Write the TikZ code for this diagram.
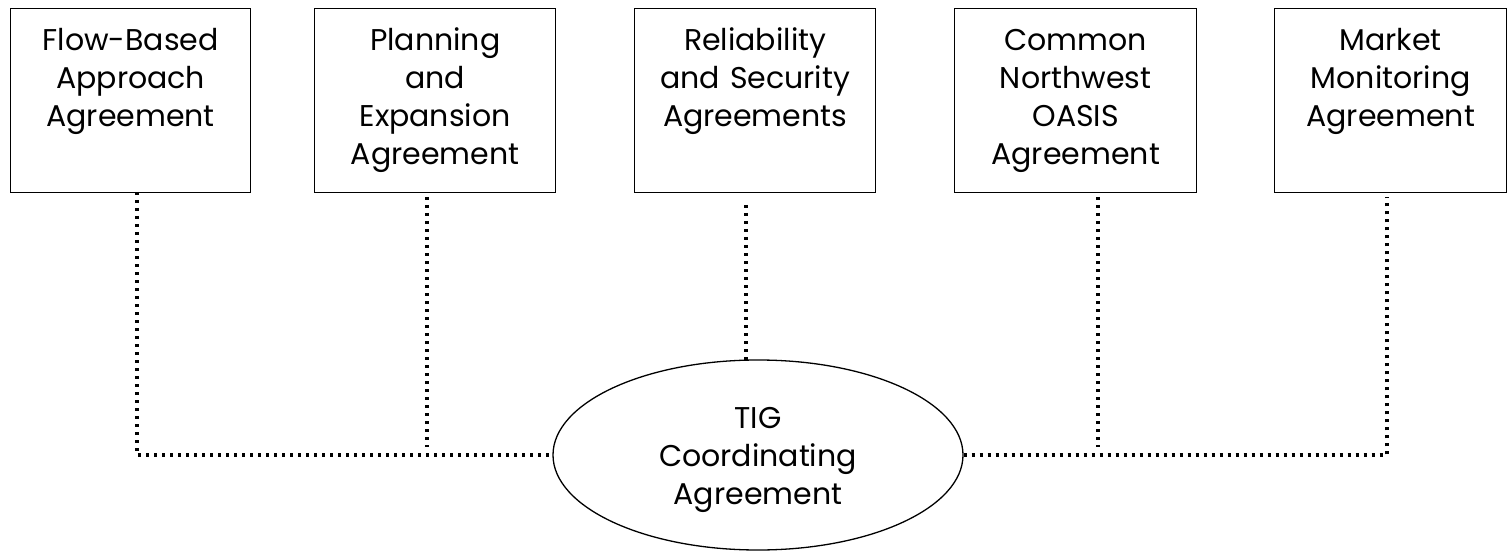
\documentclass[tikz,border=0pt]{standalone}
\usepackage{fontspec}
\setmainfont{Poppins}
\usetikzlibrary{shapes.geometric}
\begin{document}
\begin{tikzpicture}[x=1bp,y=-1bp,
  lbl/.style={font=\fontsize{30bp}{38bp}\selectfont},
  box/.style={lbl, draw, line width=1.3bp, inner sep=0pt, anchor=north west,
    align=center, text height=42bp, text depth=142bp},
  dots/.style={line width=3.3bp, dash pattern=on 3.3bp off 4.7bp}]
\useasboundingbox (0,0) rectangle (1508,551);
\node[box, text width=240bp] (b1) at (10,8) {Flow-Based\\Approach\\Agreement};
\node[box, text width=241bp] (b2) at (314,8) {Planning\\and\\Expansion\\Agreement};
\node[box, text width=241bp] (b3) at (634,8) {Reliability\\and Security\\Agreements};
\node[box, text width=242bp] (b4) at (954,8) {Common\\Northwest\\OASIS\\Agreement};
\node[box, text width=232bp] (b5) at (1274,8) {Market\\Monitoring\\Agreement};
\node[lbl, ellipse, draw, line width=1.3bp, minimum width=410bp, minimum height=190bp,
  inner sep=0pt, align=center, text width=230bp, text height=29bp, text depth=83bp] (tig) at (758,455)
  {TIG\\Coordinating\\Agreement};
% junction / end points
\coordinate (s1) at (137,192);
\coordinate (s2) at (427,197);
\coordinate (e2) at (427,447);
\coordinate (s3) at (746,205);
\coordinate (e3) at (746,360);
\coordinate (s4) at (1098,197);
\coordinate (e4) at (1098,447);
\coordinate (s5) at (1387,197);
\draw[dots] (s1) |- (tig.west);
\draw[dots] (s2) -- (e2);
\draw[dots] (s3) -- (e3);
\draw[dots] (s4) -- (e4);
\draw[dots] (tig.east) -| (s5);
\end{tikzpicture}
\end{document}
